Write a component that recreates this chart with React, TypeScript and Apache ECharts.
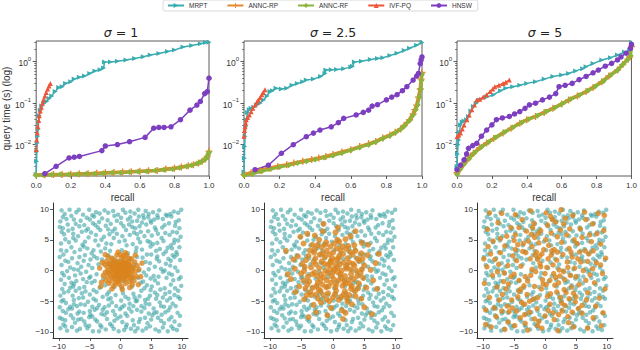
import React, { useEffect, useRef } from 'react';
import * as echarts from 'echarts';

const METHODS = ['MRPT', 'ANNC-RP', 'ANNC-RF', 'IVF-PQ', 'HNSW'];
const METHOD_COLORS = ['#3aacb0', '#e3892c', '#8cb33a', '#ee5538', '#7d3fc0'];
const SIGMA_LABELS = ['1', '2.5', '5'];
const TIME_MIN = 0.00176;
const TIME_MAX = 3.15;
const TIME_MINOR_TICKS = [0.002, 0.003, 0.004, 0.005, 0.006, 0.007, 0.008, 0.009, 0.02, 0.03, 0.04, 0.05, 0.06, 0.07, 0.08, 0.09, 0.2, 0.3, 0.4, 0.5, 0.6, 0.7, 0.8, 0.9, 2, 3];
const SCATTER_TICKS = [-10, -5, 0, 5, 10];

// sigma = 1 : [recall, query time (s)]
const MRPT_S1 = [[0.0,0.0019],[0.002,0.004],[0.004,0.007],[0.006,0.011],[0.008,0.016],[0.011,0.024],[0.014,0.035],[0.018,0.05],[0.024,0.068],[0.032,0.085],[0.045,0.1],[0.06,0.11],[0.075,0.13],[0.09,0.15],[0.11,0.19],[0.13,0.24],[0.15,0.25],[0.17,0.3],[0.2,0.33],[0.22,0.38],[0.25,0.42],[0.28,0.45],[0.31,0.52],[0.34,0.6],[0.37,0.64],[0.39,0.7],[0.395,0.98],[0.43,0.98],[0.47,1.02],[0.52,1.1],[0.57,1.2],[0.62,1.32],[0.66,1.45],[0.71,1.58],[0.76,1.75],[0.8,1.9],[0.85,2.25],[0.9,2.45],[0.95,2.7],[0.98,2.9],[1.0,2.95]];
const ANNCRP_S1 = [[0.0,0.00185],[0.05,0.00188],[0.1,0.0019],[0.15,0.0019],[0.2,0.00195],[0.25,0.002],[0.3,0.002],[0.35,0.00205],[0.4,0.0021],[0.45,0.00215],[0.5,0.0022],[0.55,0.00222],[0.6,0.00228],[0.65,0.00235],[0.7,0.0024],[0.75,0.0026],[0.8,0.0027],[0.84,0.0029],[0.88,0.0031],[0.91,0.0033],[0.94,0.0036],[0.96,0.004],[0.98,0.0045],[0.99,0.0052],[1.0,0.007]];
const ANNCRF_S1 = [[0.0,0.00183],[0.04,0.00185],[0.09,0.00188],[0.14,0.0019],[0.19,0.0019],[0.24,0.00195],[0.29,0.002],[0.34,0.002],[0.39,0.00205],[0.44,0.0021],[0.49,0.00212],[0.54,0.0022],[0.59,0.00225],[0.64,0.0023],[0.69,0.0024],[0.74,0.0025],[0.79,0.0026],[0.83,0.0028],[0.87,0.003],[0.9,0.0032],[0.93,0.0035],[0.95,0.0038],[0.97,0.0042],[0.985,0.0048],[0.995,0.0058],[1.0,0.0065]];
const IVFPQ_S1 = [[0.0,0.0075],[0.003,0.013],[0.006,0.019],[0.01,0.027],[0.014,0.038],[0.018,0.05],[0.024,0.065],[0.03,0.08],[0.036,0.1],[0.042,0.12],[0.05,0.15],[0.058,0.18],[0.066,0.22],[0.074,0.26],[0.082,0.3]];
const HNSW_S1 = [[0.05,0.002],[0.115,0.003],[0.19,0.0048],[0.22,0.005],[0.25,0.0052],[0.38,0.0072],[0.4,0.0093],[0.47,0.0101],[0.54,0.0118],[0.63,0.015],[0.68,0.025],[0.71,0.026],[0.74,0.026],[0.78,0.027],[0.835,0.04],[0.89,0.068],[0.93,0.09],[0.95,0.11],[0.975,0.17],[0.99,0.19],[1.0,0.4]];

// sigma = 2.5
const MRPT_S2 = [[0.0,0.0022],[0.002,0.0047],[0.004,0.009],[0.006,0.016],[0.01,0.027],[0.013,0.04],[0.02,0.06],[0.03,0.069],[0.04,0.075],[0.055,0.08],[0.07,0.09],[0.09,0.1],[0.11,0.12],[0.13,0.15],[0.146,0.19],[0.16,0.2],[0.18,0.23],[0.21,0.22],[0.24,0.23],[0.27,0.27],[0.3,0.3],[0.33,0.33],[0.35,0.36],[0.39,0.38],[0.43,0.44],[0.455,0.52],[0.46,0.63],[0.49,0.64],[0.52,0.65],[0.56,0.68],[0.6,0.74],[0.61,0.78],[0.62,0.98],[0.66,1.02],[0.71,1.13],[0.75,1.2],[0.78,1.25],[0.82,1.4],[0.86,1.6],[0.9,1.85],[0.93,2.1],[0.97,2.5],[1.0,2.9]];
const ANNCRP_S2 = [[0.0,0.0019],[0.04,0.0021],[0.09,0.0024],[0.14,0.0027],[0.19,0.003],[0.24,0.0033],[0.28,0.0036],[0.33,0.004],[0.38,0.0044],[0.42,0.0048],[0.46,0.0052],[0.5,0.0058],[0.55,0.0067],[0.6,0.0076],[0.65,0.009],[0.7,0.0105],[0.74,0.012],[0.78,0.0145],[0.82,0.017],[0.85,0.02],[0.88,0.024],[0.9,0.029],[0.93,0.04],[0.95,0.055],[0.96,0.07],[0.97,0.09],[0.98,0.14],[0.99,0.22],[0.995,0.38],[1.0,0.55]];
const ANNCRF_S2 = [[0.0,0.0018],[0.05,0.002],[0.1,0.0023],[0.15,0.0026],[0.2,0.0029],[0.25,0.0032],[0.3,0.0036],[0.35,0.004],[0.4,0.0044],[0.45,0.0049],[0.5,0.0055],[0.55,0.0063],[0.6,0.0073],[0.65,0.0086],[0.7,0.01],[0.74,0.0116],[0.78,0.014],[0.82,0.0165],[0.85,0.0195],[0.88,0.0235],[0.9,0.028],[0.93,0.038],[0.95,0.052],[0.965,0.07],[0.975,0.09],[0.985,0.14],[0.992,0.22],[0.997,0.35],[1.0,0.5]];
const IVFPQ_S2 = [[0.0,0.016],[0.003,0.022],[0.006,0.027],[0.01,0.033],[0.013,0.04],[0.02,0.045],[0.03,0.052],[0.04,0.062],[0.05,0.075],[0.062,0.09],[0.072,0.105],[0.08,0.12],[0.09,0.135],[0.1,0.16],[0.108,0.18],[0.118,0.21]];
const HNSW_S2 = [[0.062,0.0025],[0.137,0.0032],[0.21,0.0062],[0.277,0.01],[0.35,0.0156],[0.39,0.019],[0.427,0.0225],[0.49,0.027],[0.53,0.034],[0.56,0.043],[0.63,0.052],[0.67,0.06],[0.7,0.068],[0.72,0.085],[0.75,0.092],[0.8,0.12],[0.83,0.14],[0.86,0.16],[0.89,0.2],[0.915,0.25],[0.95,0.36],[0.97,0.45],[0.98,0.52],[0.99,0.9],[0.995,1.1],[1.0,1.3]];

// sigma = 5
const MRPT_S3 = [[0.0,0.003],[0.003,0.006],[0.006,0.01],[0.01,0.013],[0.014,0.02],[0.02,0.03],[0.03,0.035],[0.04,0.037],[0.055,0.04],[0.066,0.048],[0.08,0.065],[0.094,0.083],[0.11,0.1],[0.13,0.12],[0.17,0.14],[0.21,0.16],[0.25,0.2],[0.28,0.23],[0.32,0.25],[0.36,0.27],[0.4,0.3],[0.45,0.33],[0.5,0.38],[0.55,0.44],[0.6,0.48],[0.64,0.52],[0.68,0.6],[0.72,0.68],[0.74,0.76],[0.78,0.9],[0.83,1.1],[0.88,1.25],[0.92,1.45],[0.96,1.7],[0.99,1.9],[1.0,2.9]];
const ANNCRP_S3 = [[0.0,0.0021],[0.02,0.0028],[0.04,0.0036],[0.06,0.0045],[0.094,0.0062],[0.13,0.0085],[0.17,0.011],[0.21,0.014],[0.264,0.019],[0.31,0.025],[0.36,0.033],[0.4,0.04],[0.45,0.048],[0.5,0.06],[0.55,0.075],[0.6,0.095],[0.64,0.12],[0.69,0.15],[0.74,0.19],[0.78,0.24],[0.83,0.33],[0.87,0.45],[0.92,0.63],[0.95,0.85],[0.98,1.15],[0.99,1.3],[1.0,2.3]];
const ANNCRF_S3 = [[0.0,0.0019],[0.02,0.0026],[0.04,0.0034],[0.07,0.0046],[0.1,0.0063],[0.14,0.0088],[0.18,0.0115],[0.22,0.015],[0.27,0.02],[0.32,0.026],[0.37,0.034],[0.41,0.041],[0.46,0.05],[0.51,0.062],[0.56,0.078],[0.6,0.095],[0.65,0.125],[0.7,0.155],[0.75,0.2],[0.79,0.25],[0.84,0.34],[0.88,0.47],[0.92,0.62],[0.95,0.85],[0.98,1.15],[0.995,1.4],[1.0,2.5]];
const IVFPQ_S3 = [[0.0,0.0156],[0.01,0.017],[0.02,0.019],[0.03,0.024],[0.04,0.03],[0.057,0.04],[0.07,0.052],[0.085,0.069],[0.1,0.09],[0.113,0.12],[0.13,0.125],[0.15,0.14],[0.17,0.16],[0.19,0.19],[0.205,0.22],[0.217,0.25],[0.24,0.27],[0.264,0.3],[0.28,0.32],[0.3,0.36]];
const HNSW_S3 = [[0.0,0.0025],[0.02,0.0032],[0.04,0.0043],[0.055,0.006],[0.066,0.0082],[0.09,0.0095],[0.113,0.0108],[0.14,0.016],[0.17,0.0225],[0.2,0.03],[0.226,0.04],[0.26,0.044],[0.3,0.048],[0.33,0.055],[0.36,0.063],[0.39,0.075],[0.415,0.091],[0.45,0.1],[0.49,0.12],[0.53,0.14],[0.566,0.17],[0.585,0.25],[0.62,0.27],[0.66,0.3],[0.7,0.37],[0.74,0.44],[0.78,0.54],[0.81,0.63],[0.85,0.78],[0.886,0.91],[0.92,1.1],[0.94,1.3],[0.97,1.6],[0.995,2.1],[1.0,2.6]];

// background (uniform) points
const UNIFORM_XY = [[-9.6,9.8],[-7.2,9.5],[-5.1,9.9],[-3.4,9.3],[-1.2,9.7],[0.8,9.4],[2.9,9.9],[4.6,9.2],[6.3,9.8],[8.7,9.6],
[-8.8,8.4],[-6.5,8.1],[-4.3,8.8],[-2.1,8.2],[0.1,8.6],[1.9,8.0],[3.8,8.5],[5.5,8.3],[7.6,8.9],[9.5,8.2],
[-9.9,7.1],[-7.8,6.8],[-5.9,7.4],[-3.7,7.0],[-1.6,7.6],[0.5,7.2],[2.4,6.9],[4.2,7.5],[6.8,7.0],[8.9,7.3],
[-9.2,5.9],[-6.9,5.6],[-4.8,6.2],[-2.7,5.5],[-0.6,6.0],[1.5,5.8],[3.3,6.3],[5.1,5.7],[7.3,6.1],[9.8,5.5],
[-8.4,4.6],[-6.2,4.2],[-4.1,4.9],[-2.3,4.4],[-0.2,4.7],[2.0,4.3],[4.4,4.8],[6.0,4.5],[8.2,4.1],[9.4,4.9],
[-9.7,3.3],[-7.5,3.0],[-5.4,3.6],[-3.2,3.1],[3.5,3.4],[5.8,3.2],[7.7,3.7],[9.1,3.0],[-6.7,2.2],[8.5,2.5],
[-9.0,1.6],[-7.0,1.2],[-4.9,1.8],[-3.6,1.0],[4.1,1.4],[5.9,1.9],[7.4,1.1],[9.7,1.7],[-8.2,0.5],[6.6,0.3],
[-9.5,-0.4],[-7.4,-0.8],[-5.6,-0.2],[-3.9,-0.6],[3.8,-0.3],[5.4,-0.9],[7.9,-0.5],[9.3,-0.1],[-6.1,-1.4],[8.6,-1.6],
[-9.1,-2.2],[-7.7,-2.6],[-4.7,-2.0],[-3.4,-2.8],[4.3,-2.4],[6.1,-2.1],[7.2,-2.9],[9.9,-2.5],[-8.5,-3.4],[5.6,-3.6],
[-9.8,-4.1],[-6.8,-4.5],[-5.0,-3.9],[-2.9,-4.3],[-0.8,-4.0],[1.3,-4.6],[3.1,-4.2],[6.9,-4.4],[8.8,-4.0],[-1.9,-3.5],
[-8.9,-5.3],[-7.1,-5.8],[-5.3,-5.1],[-3.5,-5.6],[-1.4,-5.2],[0.6,-5.7],[2.5,-5.0],[4.7,-5.5],[6.4,-5.2],[9.0,-5.8],
[-9.4,-6.6],[-7.9,-6.2],[-6.0,-6.9],[-4.2,-6.4],[-2.2,-6.8],[-0.1,-6.3],[1.8,-6.7],[3.9,-6.1],[5.9,-6.8],[7.8,-6.5],
[-9.9,-7.7],[-8.1,-7.3],[-6.4,-7.9],[-4.6,-7.5],[-2.6,-7.2],[-0.5,-7.8],[1.1,-7.4],[3.2,-7.9],[5.2,-7.3],[8.3,-7.6],
[-9.3,-8.8],[-7.4,-8.5],[-5.7,-8.9],[-3.8,-8.3],[-1.7,-8.7],[0.3,-8.4],[2.2,-8.9],[4.4,-8.6],[6.6,-8.2],[9.6,-8.9],
[-8.7,-9.8],[-6.6,-9.5],[-4.5,-9.9],[-2.4,-9.6],[-0.3,-9.9],[1.7,-9.5],[3.6,-9.8],[5.7,-9.6],[7.7,-9.9],[9.2,-9.7],
[-8.3,9.9],[-6.1,9.1],[-4.0,9.5],[-2.6,9.8],[-0.4,9.1],[1.6,9.6],[3.7,9.0],[5.3,9.5],[7.4,9.1],[9.9,9.9],
[-9.4,8.7],[-7.6,8.3],[-5.5,8.6],[-3.0,8.5],[-1.0,8.9],[1.2,8.3],[3.0,8.8],[4.9,8.1],[6.9,8.4],[8.3,8.8],
[-8.6,7.5],[-6.7,7.2],[-4.5,7.7],[-2.4,7.3],[-0.9,6.8],[1.4,7.5],[3.5,7.8],[5.6,7.0],[7.9,7.7],[9.6,6.9],
[-9.6,6.3],[-7.7,6.0],[-5.6,6.5],[-3.3,6.6],[-1.3,6.4],[0.9,6.6],[2.7,5.9],[4.5,6.4],[6.1,6.0],[8.5,6.3],
[-9.0,5.1],[-7.3,4.9],[-5.2,5.4],[-3.1,5.0],[-1.1,5.3],[0.7,4.9],[2.9,5.2],[4.8,4.6],[6.7,5.3],[8.8,5.0],
[-8.0,3.8],[-6.0,3.9],[-4.4,3.3],[-2.5,3.6],[2.6,3.7],[4.9,3.9],[6.4,3.5],[8.4,3.6],[-9.3,2.6],[7.0,2.7],
[-7.9,2.0],[-5.8,2.5],[-4.3,2.3],[3.6,2.1],[5.0,2.6],[6.3,1.5],[8.8,2.2],[-9.6,0.9],[-6.4,0.6],[8.1,0.8],
[-8.7,-0.1],[-6.9,0.1],[-4.6,0.4],[4.6,0.2],[6.9,-0.2],[8.9,0.5],[-7.2,-1.7],[-5.1,-1.2],[4.9,-1.3],[7.5,-1.2],
[-9.7,-1.5],[-8.0,-2.0],[-5.9,-2.7],[-4.2,-1.7],[3.7,-1.8],[5.1,-2.6],[8.2,-2.3],[9.5,-1.4],[-7.3,-3.3],[-4.4,-3.2],
[3.4,-3.3],[6.5,-3.1],[8.0,-3.5],[9.4,-3.3],[-9.2,-3.6],[-2.2,-3.9],[0.4,-3.7],[2.1,-3.8],[-6.3,-3.7],[4.8,-4.1],
[-9.6,-5.0],[-7.6,-4.8],[-4.0,-4.9],[-2.0,-4.7],[0.1,-4.9],[2.3,-4.4],[4.0,-4.8],[5.8,-4.6],[7.6,-4.9],[9.7,-4.6],
[-8.2,-5.9],[-6.5,-5.5],[-4.6,-5.9],[-2.6,-6.0],[-0.7,-5.8],[1.5,-5.4],[3.4,-5.8],[5.4,-6.2],[7.1,-5.9],[8.5,-5.4],
[-8.9,-6.9],[-7.0,-7.0],[-5.0,-6.6],[-3.1,-7.1],[-1.2,-6.6],[0.8,-7.0],[2.7,-6.4],[4.6,-7.0],[6.7,-7.2],[9.3,-6.9],
[-9.0,-8.1],[-6.9,-8.0],[-5.1,-7.6],[-3.3,-8.9],[-1.0,-8.2],[1.0,-8.8],[3.0,-8.4],[5.0,-8.0],[7.1,-8.6],[8.8,-8.3],
[-9.8,-9.4],[-7.9,-9.2],[-5.4,-9.4],[-3.1,-9.2],[-1.1,-9.5],[0.9,-9.2],[2.8,-9.4],[4.8,-9.1],[6.9,-9.3],[8.6,-9.5],
[-2.0,2.5],[1.2,2.8],[2.3,1.0],[-1.5,0.5],[0.6,-1.8],[-2.8,-1.3],[1.9,-2.6],[3.0,0.0],[-0.4,1.6],[2.5,3.1],
[-3.0,1.8],[0.2,3.3],[-1.0,-2.7],[1.1,-0.9],[-2.2,-0.2],[2.9,-1.2],[-0.8,-1.1],[0.5,0.4],[-1.7,3.2],[1.6,1.9]];
const UNIFORM_XY_B = [[-9.1,9.2],[-6.8,9.9],[-4.6,9.0],[-2.0,9.4],[0.4,9.9],[2.3,9.3],[4.1,9.7],[6.0,9.0],[8.1,9.2],[9.4,9.4],
[-9.8,8.0],[-8.0,8.9],[-5.0,8.3],[-3.5,7.9],[-0.6,8.1],[1.6,8.7],[2.7,8.1],[4.5,8.7],[6.1,8.6],[9.0,7.9],
[-9.4,6.9],[-7.3,7.6],[-5.3,6.8],[-4.1,7.4],[-2.0,6.7],[0.1,7.7],[1.9,7.1],[3.1,7.2],[5.0,7.8],[7.2,7.4],
[-8.5,6.5],[-6.3,6.3],[-4.0,5.8],[-1.8,5.9],[0.3,5.6],[2.2,6.2],[3.9,5.6],[5.8,6.6],[8.0,5.8],[9.2,6.2],
[-9.7,4.4],[-7.7,5.3],[-5.8,4.7],[-3.6,4.1],[-1.5,4.3],[1.0,4.1],[3.2,4.6],[5.3,4.3],[7.0,4.8],[8.7,4.5],
[-8.8,3.2],[-6.6,3.4],[-4.7,2.8],[-3.8,2.0],[4.3,2.6],[6.0,2.3],[7.4,3.1],[9.6,3.8],[-9.9,2.2],[8.2,1.6],
[-8.5,1.4],[-6.0,1.6],[-5.2,0.9],[4.8,1.2],[5.6,0.6],[7.8,1.9],[9.2,2.6],[-7.6,0.2],[-9.2,-0.8],[7.2,0.0],
[-8.4,-1.2],[-6.5,-0.5],[-4.9,-1.0],[4.2,-0.8],[6.2,-1.0],[8.4,-0.7],[9.8,-1.1],[-7.6,-2.2],[-5.5,-1.9],[5.6,-1.6],
[-9.5,-3.0],[-8.2,-2.8],[-6.7,-2.9],[-3.9,-3.5],[3.9,-2.9],[4.9,-3.2],[7.3,-3.8],[8.9,-2.9],[-5.7,-3.4],[6.0,-4.0],
[-9.3,-4.8],[-7.8,-4.1],[-6.1,-4.4],[-4.4,-4.6],[-1.6,-4.5],[0.8,-4.3],[2.7,-4.9],[4.5,-4.6],[8.1,-4.5],[9.4,-4.3],
[-9.9,-6.0],[-7.6,-5.5],[-5.8,-5.6],[-3.8,-6.1],[-1.9,-5.7],[0.2,-6.0],[2.1,-5.8],[4.1,-5.4],[6.6,-5.8],[8.1,-6.0],
[-8.5,-6.3],[-6.7,-6.7],[-4.9,-7.2],[-2.9,-6.4],[-0.9,-7.2],[1.4,-6.2],[3.4,-6.7],[5.5,-6.9],[7.3,-6.8],[9.7,-7.4],
[-9.5,-7.9],[-7.7,-7.8],[-5.9,-8.3],[-4.1,-8.0],[-2.2,-7.9],[0.0,-7.5],[2.0,-8.1],[4.0,-7.7],[6.1,-7.7],[7.9,-8.0],
[-9.0,-9.1],[-7.1,-9.8],[-5.1,-9.0],[-3.5,-9.9],[-1.4,-9.0],[0.6,-9.7],[2.4,-9.9],[4.2,-9.4],[6.3,-9.9],[8.3,-9.1],
[-1.3,2.0],[1.8,-1.5],[2.7,2.2],[-2.5,-2.4],[0.9,1.3],[-0.6,-0.4],[2.0,0.4],[-1.9,1.2],[0.2,-2.9],[3.3,-2.0]];

// gaussian points, sigma = 1
const GAUSS_S1 = [[0.0,0.0],[0.5,0.3],[-0.4,0.6],[0.8,-0.5],[-0.7,-0.3],[0.2,1.0],[-0.2,-1.0],[1.1,0.4],[-1.2,0.2],[0.4,-0.9],
[-0.6,1.2],[1.3,-0.2],[-1.0,-0.9],[0.9,1.1],[-0.1,1.5],[1.6,0.7],[-1.5,0.8],[0.6,-1.4],[-1.3,-1.2],[1.0,-1.3],
[0.1,-1.7],[-1.8,-0.4],[1.8,-0.6],[-0.9,1.7],[1.4,1.5],[-1.6,1.4],[0.7,1.8],[-0.5,-1.8],[1.9,0.1],[-2.0,0.0],
[0.3,0.6],[-0.3,0.2],[0.6,0.0],[-0.8,0.7],[0.1,-0.4],[0.9,0.6],[-0.4,-0.6],[1.2,-0.8],[-1.1,-0.5],[0.4,1.4],
[-0.2,0.9],[0.0,-1.3],[-1.4,0.0],[1.5,0.1],[0.8,-1.0],[-0.9,-1.4],[1.1,1.2],[-1.2,1.1],[0.2,2.1],[-0.3,-2.2],
[2.1,0.5],[-2.2,0.6],[2.0,-1.1],[-2.1,-1.0],[1.3,2.0],[-1.4,2.0],[1.5,-1.8],[-1.7,-1.7],[0.9,-2.1],[-0.9,-2.0],
[2.4,-0.2],[-2.5,-0.3],[0.5,2.4],[-0.6,2.5],[2.3,1.4],[-2.3,1.5],[2.2,-1.7],[-2.4,-1.6],[1.0,2.5],[-1.1,-2.5],
[0.0,2.6],[0.2,-2.6],[2.7,0.8],[-2.6,1.0],[1.8,1.9],[-1.9,-2.1],[2.6,-1.0],[-2.8,-0.8],[1.9,-2.3],[-2.0,2.2],
[3.0,0.2],[-3.1,-1.9],[3.3,-1.0],[-3.4,0.4],[2.9,-2.3],[0.8,2.9],[-0.4,3.0],[1.5,-2.8],[-1.4,-3.0],[3.5,1.2],
[-3.2,-2.6],[2.4,2.5],[-2.5,2.6],[0.3,-3.1],[-3.0,1.3],[1.6,0.9],[-1.6,-0.8],[0.7,-0.2],[-0.5,0.4],[0.2,0.2],
[-0.1,0.7],[1.0,0.0],[-1.0,0.3],[0.5,-0.7],[-0.7,-0.9],[1.4,-0.5],[-1.3,0.6],[0.3,1.2],[-0.3,-1.5],[1.7,-1.2],
[-1.8,1.0],[0.6,0.9],[-0.6,-0.1],[1.2,0.8],[-1.1,1.5],[0.0,0.5],[0.4,-0.3],[-0.2,-0.6],[0.8,0.3],[-0.5,1.0]];

// gaussian points, sigma = 2.5
const GAUSS_S2 = [[0.2,0.1],[-0.8,0.9],[1.2,-0.6],[-1.5,-1.1],[0.6,1.8],[-0.3,-2.0],[2.1,0.7],[-2.2,0.4],[1.0,2.4],[-1.3,2.2],
[2.5,-1.5],[-2.4,-1.9],[0.4,-2.7],[-0.9,-0.4],[1.7,1.3],[-1.8,1.5],[0.9,-1.6],[-0.5,1.2],[2.8,0.2],[-2.9,-0.3],
[0.0,2.9],[1.5,-2.5],[-1.1,-2.7],[2.3,2.0],[-2.1,2.6],[0.7,0.5],[-0.2,-0.9],[1.4,0.0],[-1.2,0.0],[0.3,1.0],
[-0.6,2.6],[2.6,1.3],[-2.7,1.0],[1.9,-0.9],[-1.7,-2.3],[0.1,-1.4],[-0.4,0.3],[1.1,1.0],[-1.0,-1.6],[2.0,-2.1],
[-2.5,-0.9],[0.8,-0.3],[-0.1,2.0],[1.6,2.7],[-1.9,-0.6],[0.5,-2.2],[-2.8,2.0],[2.9,-0.6],[-0.7,-2.6],[1.3,-1.2],
[-1.4,1.1],[0.0,-0.3],[2.2,0.3],[-2.0,-1.5],[0.9,2.0],[-0.3,1.6],[1.8,-1.8],[-1.6,2.8],[2.7,-2.2],[-2.6,-2.5],
[3.4,0.8],[-3.5,0.5],[0.6,3.6],[-0.8,-3.7],[3.1,2.6],[-3.0,2.9],[2.9,-3.0],[-3.2,-2.8],[3.9,-0.9],[-4.0,-1.0],
[1.5,3.9],[-1.8,3.8],[1.7,-3.9],[-1.5,-4.0],[4.2,1.6],[-4.3,1.7],[4.1,-2.1],[-4.1,-2.3],[0.2,4.4],[0.0,-4.4],
[2.4,4.0],[-2.5,4.1],[2.6,-4.0],[-2.7,-3.9],[4.6,0.2],[-4.6,-0.1],[3.6,3.2],[-3.7,3.3],[3.5,-3.4],[-3.6,-3.5],
[1.0,4.7],[-1.1,4.6],[0.9,-4.8],[-1.0,-4.7],[4.8,-1.2],[-4.9,1.1],[4.5,2.8],[-4.4,-2.9],[3.2,1.1],[-3.3,-0.6],
[3.3,-1.4],[-3.1,1.4],[1.2,3.3],[-1.0,3.2],[0.5,-3.3],[-2.0,-3.3],[3.7,0.0],[-3.8,-1.8],[2.1,3.5],[-2.3,-3.1],
[1.9,-3.4],[-0.4,3.9],[0.3,-3.9],[3.9,1.9],[-3.9,2.4],[4.0,-2.9],[-3.5,-4.0],[2.8,3.0],[-2.9,3.5],[3.0,-2.6],
[-4.5,0.6],[4.4,-0.4],[1.3,-4.3],[-1.2,4.2],[2.2,-4.5],[-2.4,-4.6],[4.7,1.9],[-4.7,-1.6],[0.7,5.0],[-0.6,-5.0],
[3.4,4.1],[-3.3,4.2],[3.6,-4.2],[-4.2,-4.0],[5.0,0.8],[-5.1,-0.5],[2.0,5.1],[-2.2,5.0],[2.3,-5.1],[-1.9,-5.2],
[5.5,2.5],[-5.6,2.3],[5.3,-2.8],[-5.4,-2.6],[2.8,5.6],[-2.9,5.7],[3.0,-5.5],[-3.1,-5.6],[6.0,0.1],[-6.1,0.3],
[0.4,6.2],[-0.3,-6.1],[4.6,4.5],[-4.7,4.4],[4.5,-4.6],[-4.6,-4.7],[6.4,-1.6],[-6.3,1.8],[1.4,-6.5],[-1.6,6.4],
[5.6,4.2],[-6.0,-3.5],[6.8,1.2],[-6.7,-1.4],[2.0,-6.9],[-2.7,-6.8],[3.6,6.4],[-4.1,6.0],[7.0,-3.0],[-7.2,-0.6],
[5.0,-6.0],[-5.2,5.5],[0.8,7.0],[-0.9,-7.3],[7.3,2.7],[-7.5,3.2],[1.6,-7.9],[-3.9,-7.6],[-1.5,7.6],[6.2,-7.1]];

// gaussian points, sigma = 5
const GAUSS_S3 = [[0.3,0.5],[-1.2,1.8],[2.4,-0.9],[-2.8,-1.7],[1.1,3.2],[-0.6,-3.0],[3.6,1.4],[-3.9,0.7],[1.9,-3.5],[-2.1,3.9],
[4.3,-2.7],[-4.2,-3.4],[0.8,-1.6],[-1.5,-0.2],[2.9,2.6],[-3.1,2.9],[1.6,-2.4],[-0.9,2.3],[4.8,0.4],[-5.0,-0.6],
[0.1,5.0],[2.5,-4.4],[-1.9,-4.7],[3.9,3.6],[-3.5,4.4],[1.3,0.9],[-0.4,-1.5],[2.3,0.1],[-2.1,0.2],[0.5,1.9],
[-1.0,4.5],[4.4,2.2],[-4.6,1.6],[3.2,-1.5],[-2.9,-3.9],[0.2,-2.3],[-0.7,0.6],[1.9,1.7],[-1.7,-2.6],[3.4,-3.6],
[-4.2,-1.6],[1.4,-0.5],[-0.2,3.4],[2.7,4.6],[-3.2,-1.0],[0.9,-3.8],[-4.8,3.4],[5.0,-1.0],[-1.2,-4.4],[2.2,-2.0],
[-2.4,1.9],[0.0,-0.5],[3.7,0.5],[-3.4,-2.5],[1.5,3.4],[-0.5,2.7],[3.1,-3.1],[-2.7,4.8],[4.6,-3.7],[-4.4,-4.3],
[5.8,1.4],[-6.0,0.8],[1.0,6.1],[-1.3,-6.2],[5.2,4.4],[-5.0,4.9],[4.9,-5.1],[-5.4,-4.8],[6.6,-1.6],[-6.7,-1.8],
[2.5,6.6],[-3.0,6.4],[2.8,-6.6],[-2.5,-6.8],[7.1,2.7],[-7.2,2.9],[6.9,-3.6],[-6.9,-3.9],[0.4,7.4],[0.0,-7.4],
[4.0,6.8],[-4.2,7.0],[4.4,-6.8],[-4.6,-6.6],[7.7,0.3],[-7.7,-0.2],[6.0,5.4],[-6.2,5.6],[6.0,-5.7],[-6.1,-5.8],
[1.7,7.9],[-1.8,7.7],[1.5,-8.0],[-1.7,-7.9],[8.0,-2.0],[-8.1,1.8],[7.5,4.7],[-7.4,-4.8],[5.3,1.9],[-5.5,-1.0],
[5.5,-2.3],[-5.2,2.4],[2.0,5.5],[-1.7,5.4],[0.8,-5.5],[-3.3,-5.5],[6.2,0.0],[-6.3,-3.0],[3.5,5.8],[-3.8,-5.2],
[3.2,-5.7],[-0.7,6.5],[0.5,-6.5],[6.5,3.2],[-6.5,4.0],[6.7,-4.8],[-5.8,-6.7],[4.7,5.0],[-4.8,5.8],[5.0,-4.3],
[-7.5,1.0],[7.3,-0.7],[2.2,-7.2],[-2.0,7.0],[3.7,-7.5],[-4.0,-7.7],[7.8,3.2],[-7.8,-2.7],[1.2,8.3],[-1.0,-8.3],
[5.7,6.8],[-5.5,7.0],[6.0,-7.0],[-7.0,-6.6],[8.3,1.3],[-8.5,-0.8],[3.3,8.5],[-3.7,8.3],[3.8,-8.5],[-3.2,-8.6],
[9.0,4.3],[-9.2,3.9],[8.8,-4.5],[-9.0,-4.4],[4.5,9.0],[-4.8,9.1],[4.6,-9.2],[-4.9,-9.0],[9.3,-0.5],[-9.4,0.6],
[0.2,9.4],[-0.5,-9.4],[7.7,7.6],[-7.6,7.8],[7.8,-7.7],[-7.9,-7.5],[9.5,6.5],[-9.6,-6.4],[6.4,9.5],[-6.5,-9.6],
[9.4,-6.9],[-9.3,6.7],[6.9,-9.4],[-7.0,9.3],[9.8,2.0],[-9.8,-2.1],[2.1,-9.8],[-2.3,9.7],[8.6,9.3],[-8.7,-9.2],
[9.1,-9.0],[-9.0,9.4],[2.6,9.9],[-2.8,-9.7],[9.7,-3.0],[-9.9,1.9],[8.4,6.0],[-8.2,-6.1],[6.6,8.3],[-6.0,-8.4],
[1.0,2.5],[-2.3,-0.8],[3.0,-0.2],[-0.3,-2.2],[2.0,3.0],[-3.6,3.1],[4.1,-0.8],[-1.4,3.0],[0.6,4.1],[-2.5,-5.0],
[5.6,3.0],[-5.9,-2.2],[3.9,-4.6],[-4.4,4.2],[1.3,-6.9],[-1.1,6.0],[6.9,1.5],[-6.6,-0.4],[4.2,3.0],[-3.9,-3.0],
[0.4,-4.2],[-0.8,1.1],[1.7,-1.1],[-1.6,2.5],[2.7,-5.3],[-2.2,5.9],[5.4,-6.2],[-5.3,-6.1],[7.2,5.8],[-7.2,5.2],
[8.2,-5.8],[-8.4,4.8],[3.0,7.6],[-3.3,-7.2],[9.0,0.9],[-8.8,2.7],[0.9,8.8],[-1.2,-9.0],[9.6,9.0],[-9.6,-8.8]];

const PANEL_CURVES = [
  [MRPT_S1, ANNCRP_S1, ANNCRF_S1, IVFPQ_S1, HNSW_S1],
  [MRPT_S2, ANNCRP_S2, ANNCRF_S2, IVFPQ_S2, HNSW_S2],
  [MRPT_S3, ANNCRP_S3, ANNCRF_S3, IVFPQ_S3, HNSW_S3],
];
const GAUSS_SETS = [GAUSS_S1, GAUSS_S2, GAUSS_S3];

const FONT = 'Liberation Sans, Arial, sans-serif';
const TEXT_COLOR = '#333';
const PLUS_PATH = 'path://M4,0H6V4H10V6H6V10H4V6H0V4H4Z';
const METHOD_SYMBOLS = ['triangle', PLUS_PATH, 'diamond', 'triangle', 'circle'];
const METHOD_ROTATE = [-90, 0, 0, 0, 0];
const METHOD_SYMBOL_SIZE = [5, 7, 6, 5, 5.5];
const METHOD_LINE_WIDTH = [1.5, 3.5, 3, 1.5, 1.5];
const GAUSS_SIZE = [5.5, 6, 5.5];

const TOP_GRIDS = [
  { left: 33, top: 41, width: 176, height: 135 },
  { left: 244, top: 41, width: 178, height: 135 },
  { left: 457, top: 41, width: 176, height: 135 },
];
const BOTTOM_GRIDS = [
  { left: 53, top: 203, width: 135, height: 136 },
  { left: 264, top: 203, width: 138, height: 136 },
  { left: 477, top: 203, width: 136, height: 136 },
];

function expLabel(v: number) {
  const l = Math.log10(v);
  const e = Math.round(l);
  if (Math.abs(l - e) > 1e-6) return '';
  const s = e < 0 ? '\u2212' + String(-e) : String(e);
  return '{b|10}{s|' + s + '}';
}
function minusLabel(v: number) {
  return v < 0 ? '\u2212' + String(Math.abs(v)) : String(v);
}

export default function App() {
  const ref = useRef<HTMLDivElement>(null);
  useEffect(() => {
    document.body.style.margin = '0';
    if (!ref.current) return;
    const chart = echarts.init(ref.current, undefined, { renderer: 'svg' });

    const grid: any[] = [];
    const xAxis: any[] = [];
    const yAxis: any[] = [];
    const series: any[] = [];
    const graphic: any[] = [];

    TOP_GRIDS.forEach((g, i) => {
      grid.push({ ...g, show: true, borderColor: '#333', borderWidth: 0.8 });
      xAxis.push({
        type: 'value', gridIndex: i, min: 0, max: 1, interval: 0.2,
        name: 'recall', nameLocation: 'middle', nameGap: 16,
        nameTextStyle: { fontSize: 10, color: TEXT_COLOR, fontFamily: FONT },
        axisLine: { show: false },
        axisTick: { show: true, length: 3, lineStyle: { color: '#333', width: 0.8 } },
        axisLabel: { fontSize: 8, color: TEXT_COLOR, fontFamily: FONT, margin: 5, showMinLabel: true, showMaxLabel: true,
          formatter: (v: number) => v.toFixed(1) },
        splitLine: { show: false },
      });
      graphic.push({
        type: 'text', x: g.left + g.width / 2, y: 32,
        style: {
          text: '{i|\u03c3} = ' + SIGMA_LABELS[i],
          rich: { i: { fontStyle: 'italic', fontSize: 12.5, fontFamily: 'DejaVu Sans', fill: '#222' } },
          fontSize: 12.5, fontFamily: 'DejaVu Sans', fill: '#222', align: 'center', verticalAlign: 'middle',
        },
      });
    });
    TOP_GRIDS.forEach((g, i) => {
      yAxis.push({
        type: 'log', logBase: 10, gridIndex: i, min: TIME_MIN, max: TIME_MAX,
        name: i === 0 ? 'query time (s) (log)' : '', nameLocation: 'middle', nameGap: 24,
        nameTextStyle: { fontSize: 10, color: TEXT_COLOR, fontFamily: FONT },
        axisLine: { show: false },
        axisTick: { show: true, length: 3.5, lineStyle: { color: '#333', width: 0.8 } },
        axisLabel: {
          margin: 5, formatter: expLabel, showMinLabel: false, showMaxLabel: false,
          rich: {
            b: { fontSize: 8.5, color: TEXT_COLOR, fontFamily: FONT, verticalAlign: 'bottom', padding: [3, 0, 0, 0] },
            s: { fontSize: 6, color: TEXT_COLOR, fontFamily: FONT, verticalAlign: 'top' },
          },
        },
        splitLine: { show: false },
      });
    });
    BOTTOM_GRIDS.forEach((g, i) => {
      grid.push({ ...g, show: false });
      const axisCommon = {
        type: 'value', gridIndex: 3 + i, min: -11, max: 11,
        axisLine: { show: true, onZero: false, lineStyle: { color: '#333', width: 1 } },
        axisTick: { show: true, length: 3, customValues: SCATTER_TICKS, lineStyle: { color: '#333', width: 0.8 } },
        axisLabel: { fontSize: 8, color: TEXT_COLOR, fontFamily: FONT, margin: 4, customValues: SCATTER_TICKS, formatter: minusLabel },
        splitLine: { show: false },
      };
      xAxis.push({ ...axisCommon });
      yAxis.push({ ...axisCommon });
    });
    // minor ticks for the log axes
    TOP_GRIDS.forEach((g, i) => {
      yAxis.push({
        type: 'log', logBase: 10, gridIndex: i, min: TIME_MIN, max: TIME_MAX, position: 'left',
        axisLine: { show: false }, axisLabel: { show: false }, splitLine: { show: false },
        axisTick: { show: true, length: 2, customValues: TIME_MINOR_TICKS, lineStyle: { color: '#333', width: 0.6 } },
      });
    });

    PANEL_CURVES.forEach((curves, p) => {
      curves.forEach((data, m) => {
        series.push({
          type: 'line', name: METHODS[m], xAxisIndex: p, yAxisIndex: p, data,
          symbol: METHOD_SYMBOLS[m], symbolRotate: METHOD_ROTATE[m], symbolSize: METHOD_SYMBOL_SIZE[m],
          showAllSymbol: true,
          lineStyle: { color: METHOD_COLORS[m], width: METHOD_LINE_WIDTH[m] },
          itemStyle: { color: METHOD_COLORS[m] },
          emphasis: { disabled: true },
        });
      });
    });
    GAUSS_SETS.forEach((gs, p) => {
      series.push({
        type: 'scatter', name: 'uniform', xAxisIndex: 3 + p, yAxisIndex: 3 + p, data: UNIFORM_XY.concat(UNIFORM_XY_B),
        symbolSize: 4.5, itemStyle: { color: '#3ca3a5', opacity: 0.6 }, emphasis: { disabled: true },
      });
      series.push({
        type: 'scatter', name: 'gaussian', xAxisIndex: 3 + p, yAxisIndex: 3 + p, data: gs,
        symbolSize: GAUSS_SIZE[p], itemStyle: { color: '#d9831d', opacity: 0.8 }, emphasis: { disabled: true },
      });
    });

    chart.setOption({
      animation: false,
      backgroundColor: '#fff',
      textStyle: { fontFamily: FONT },
      legend: {
        data: METHODS, left: 163, top: 0, itemWidth: 16, itemHeight: 6, itemGap: 19,
        padding: [2, 6, 2, 4], borderColor: '#d0d0d0', borderWidth: 0.8, borderRadius: 2,
        textStyle: { fontSize: 6.5, color: TEXT_COLOR, fontFamily: FONT },
      },
      grid, xAxis, yAxis, series, graphic,
    });
    return () => chart.dispose();
  }, []);
  return <div ref={ref} style={{ position: 'absolute', left: 0, top: 0, width: 640, height: 350 }} />;
}
